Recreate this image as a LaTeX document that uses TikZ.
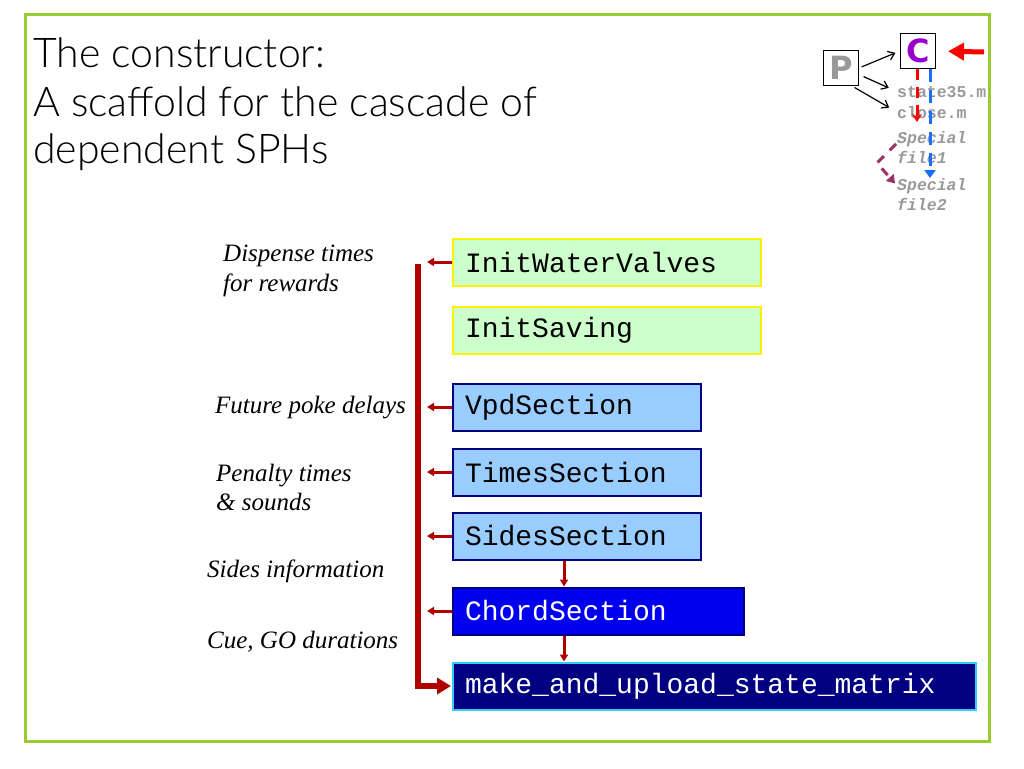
\documentclass[tikz,border=0pt]{standalone}
\usepackage{fontspec}
\setmainfont{Liberation Serif}
\setmonofont{Liberation Mono}
\newfontfamily\titlefont{Lato Light}
\newfontfamily\iconfont{DejaVu Sans}
\usetikzlibrary{arrows.meta}
\usetikzlibrary{positioning}

\definecolor{framegreen}{HTML}{99CC33}
\definecolor{lightgreen}{HTML}{CCFFCC}
\definecolor{skyblue}{HTML}{99CCFF}
\definecolor{darkred}{HTML}{B00000}
\definecolor{royal}{HTML}{0000EE}
\definecolor{deepnavy}{HTML}{000080}
\definecolor{brightcyan}{HTML}{33CCFF}
\definecolor{iconpurple}{HTML}{9900CC}
\definecolor{plum}{HTML}{993366}
\definecolor{dashblue}{HTML}{1A6EFF}
\definecolor{filegray}{HTML}{999999}

\tikzset{
	sph/.style={line width=2pt, anchor=west, minimum height=47pt, inner xsep=12pt, inner ysep=0pt,
		align=left, font=\fontsize{28}{30}\selectfont\ttfamily},
	greenbox/.style={sph, draw=yellow, fill=lightgreen},
	bluebox/.style={sph, draw=deepnavy, fill=skyblue},
	chordbox/.style={sph, draw=deepnavy, fill=royal, text=white},
	matrixbox/.style={sph, draw=brightcyan, fill=deepnavy, text=white},
	note/.style={anchor=base west, inner sep=0pt, font=\fontsize{25}{30}\selectfont\itshape},
	titleline/.style={anchor=base west, inner sep=0pt, font=\titlefont\fontsize{41}{48}\selectfont},
	feed/.style={darkred, line width=3pt, -{Triangle[length=7pt,width=8pt]}},
	bracket/.style={darkred, line width=6pt, -{Triangle[length=14pt,width=16pt]}},
	iconbox/.style={draw, line width=1pt, minimum width=35pt, minimum height=34pt, inner sep=0pt,
		font=\iconfont\bfseries\fontsize{32}{32}\selectfont},
	iconfile/.style={anchor=base west, inner sep=0pt, text=filegray, font=\ttfamily\bfseries\fontsize{16.5}{18}\selectfont},
	pointer/.style={line width=1.2pt, -{Straight Barb[length=6pt,width=9pt]}},
}

\begin{document}
\begin{tikzpicture}[x=1pt,y=-1pt]
	\useasboundingbox (0,0) rectangle (1024,768);
	
	\node[titleline] (t1) at (33,67) {The constructor:};
	\node[titleline] (t2) at (33,116) {A scaffold for the cascade of};
	\node[titleline] (t3) at (33,163) {dependent SPHs};
	
	\node[greenbox, text width=284pt] (iwv) at (452,262) {InitWaterValves};
	\node[greenbox, text width=284pt] (isv) at (452,330) {InitSaving};
	\node[bluebox, text width=224pt] (vpd) at (452,407) {VpdSection};
	\node[bluebox, text width=224pt] (tms) at (452,472) {TimesSection};
	\node[bluebox, text width=224pt] (sds) at (452,536) {SidesSection};
	\node[chordbox, text width=267pt] (chd) at (452,611) {ChordSection};
	\node[matrixbox, text width=499pt] (mus) at (452,686) {make\_and\_upload\_state\_matrix};
	
	\node[note] (disp1) at (223,261) {Dispense times};
	\node[note] (disp2) at (223,291) {for rewards};
	\node[note] (fut) at (215,413) {Future poke delays};
	\node[note] (pen1) at (216,481) {Penalty times};
	\node[note] (pen2) at (216,510) {\& sounds};
	\node[note] (side) at (207,577) {Sides information};
	\node[note] (cue) at (207,648) {Cue, GO durations};
	
	\coordinate (brtop) at (418,264);
	\coordinate (spine) at (564,0);
	\draw[bracket, shorten >=1pt] (brtop) |- (mus.west);
	\foreach \b in {iwv,vpd,tms,sds,chd}
		\draw[feed, shorten >=9pt] (\b.west) -- (\b.west -| brtop);
	\draw[feed] (sds.south -| spine) -- (chd.north -| spine);
	\draw[feed] (chd.south -| spine) -- (mus.north -| spine);
	
	\node[iconbox, text=filegray] (pbox) at (841,68) {P};
	\node[iconbox, text=iconpurple] (cbox) at (918,51) {C};
	\node[iconfile] (st35) at (897,97) {state35.m};
	\node[iconfile] (clo) at (897,118) {close.m};
	\node[iconfile, font=\ttfamily\bfseries\itshape\fontsize{16.5}{18}\selectfont] (sp1a) at (897,143) {Special};
	\node[iconfile, font=\ttfamily\bfseries\itshape\fontsize{16.5}{18}\selectfont] (sp1b) at (897,163) {file1};
	\node[iconfile, font=\ttfamily\bfseries\itshape\fontsize{16.5}{18}\selectfont] (sp2a) at (897,190) {Special};
	\node[iconfile, font=\ttfamily\bfseries\itshape\fontsize{16.5}{18}\selectfont] (sp2b) at (897,210) {file2};
	
	\draw[pointer, shorten <=3pt, shorten >=5pt] (pbox.east) -- (cbox.west);
	\draw[pointer, shorten <=5pt, shorten >=9pt] (pbox.-20) -- (st35.west);
	\draw[pointer, shorten <=4pt, shorten >=9pt] (pbox.-60) -- (clo.west);
	
	\coordinate (cin) at (984,52);
	\draw[red, line width=5pt, -{Triangle[length=16pt,width=17pt]}, shorten >=12pt] (cin) -- (cbox.east);
	
	\coordinate (rdend) at (917,122);
	\coordinate (bdend) at (930,178);
	\coordinate (pmid) at (877,163);
	\coordinate (pstart) at (896,144);
	\draw[red, line width=3pt, dash pattern=on 11pt off 7pt, -{Stealth[length=8pt,width=10pt]}] (cbox.south -| rdend) -- (rdend);
	\draw[dashblue, line width=3pt, dash pattern=on 13pt off 8pt, -{Triangle[length=8pt,width=11pt]}] (cbox.south -| bdend) -- (bdend);
	\draw[plum, line width=3pt, dash pattern=on 9pt off 8pt, -{Triangle[length=8pt,width=10pt]}, shorten >=3pt] (pstart) -- (pmid) -- (sp2a.west);
	
	\draw[framegreen, line width=3pt] (25,15) rectangle (989,741);
\end{tikzpicture}
\end{document}
